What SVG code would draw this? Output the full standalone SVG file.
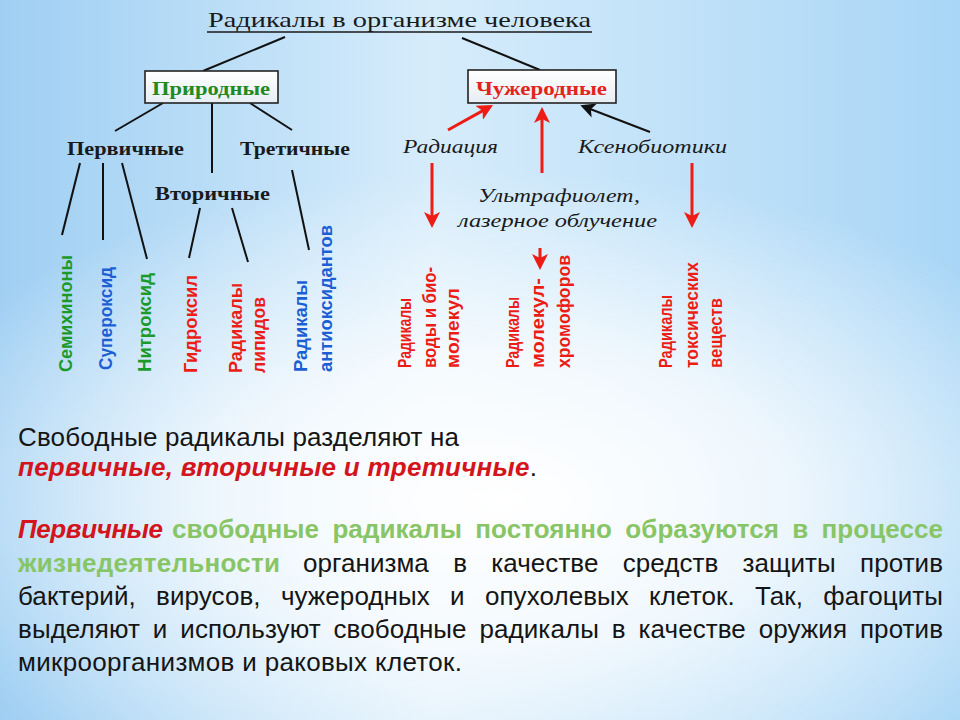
<svg xmlns="http://www.w3.org/2000/svg" width="960" height="720" viewBox="0 0 960 720">
<defs>
  <linearGradient id="bgLin" x1="0" y1="0" x2="1" y2="0">
    <stop offset="0" stop-color="#9fcff3"/>
    <stop offset="0.45" stop-color="#d6ecfb"/>
    <stop offset="1" stop-color="#a9d6f6"/>
  </linearGradient>
  <radialGradient id="glow" cx="0.5" cy="0.5" r="0.5">
    <stop offset="0" stop-color="#ffffff" stop-opacity="1"/>
    <stop offset="0.45" stop-color="#ffffff" stop-opacity="0.75"/>
    <stop offset="1" stop-color="#ffffff" stop-opacity="0"/>
  </radialGradient>
  <linearGradient id="boxFill" x1="0" y1="0" x2="0" y2="1">
    <stop offset="0" stop-color="#ffffff"/>
    <stop offset="1" stop-color="#e6eef4"/>
  </linearGradient>
  <marker id="ahRed" viewBox="0 0 16 16" refX="10" refY="8" markerWidth="16" markerHeight="16" markerUnits="userSpaceOnUse" orient="auto">
    <path d="M0,0 L16,8 L0,16 L4,8 Z" fill="#ee1c14"/>
  </marker>
  <marker id="ahBlack" viewBox="0 0 16 16" refX="10" refY="8" markerWidth="15" markerHeight="15" markerUnits="userSpaceOnUse" orient="auto">
    <path d="M0,0 L16,8 L0,16 L4,8 Z" fill="#111"/>
  </marker>
  <style>
    .ser { font-family: "Liberation Serif", "DejaVu Serif", serif; }
    .title { font-size: 21px; fill: #1a1a1a; }
    .lvl { font-size: 18px; font-weight: bold; fill: #1a1a1a; }
    .ital { font-size: 18px; font-style: italic; fill: #1a1a1a; }
    .boxlbl { font-size: 18px; font-weight: bold; }
    .box { fill: url(#boxFill); stroke: #222; stroke-width: 1.6; }
    .vl { font-family: "Liberation Sans", Arial, sans-serif; font-weight: bold; }
    .vL { font-size: 19px; }
    .vR { font-size: 19px; }
    .g { fill: #1b9a2a; }
    .b { fill: #1c5fd4; }
    .r { fill: #ec1c16; }
    .ln { stroke: #111; stroke-width: 2; fill: none; }
    .ar { stroke: #ee1c14; stroke-width: 3; fill: none; marker-end: url(#ahRed); }
    .ak { stroke: #111; stroke-width: 2; fill: none; marker-end: url(#ahBlack); }
    .p { font-family: "Liberation Sans", Arial, sans-serif; font-size: 26px; fill: #151515; }
    .pr { fill: #d4141c; font-weight: bold; font-style: italic; }
    .pg { fill: #88c566; font-weight: bold; }
  </style>
</defs>

<!-- background -->
<rect width="960" height="720" fill="url(#bgLin)"/>
<ellipse cx="500" cy="500" rx="640" ry="330" fill="url(#glow)"/>

<!-- connectors -->
<g id="connectors">
  <line class="ln" x1="285" y1="37" x2="203" y2="71"/>
  <line class="ln" x1="462" y1="38" x2="540" y2="70"/>
  <line class="ln" x1="163" y1="103" x2="115" y2="131"/>
  <line class="ln" x1="212" y1="103" x2="212" y2="173"/>
  <line class="ln" x1="250" y1="103" x2="292" y2="130"/>
  <line class="ln" x1="80" y1="163" x2="62" y2="235"/>
  <line class="ln" x1="103" y1="163" x2="103" y2="240"/>
  <line class="ln" x1="122" y1="163" x2="147" y2="259"/>
  <line class="ln" x1="200" y1="208" x2="189" y2="258"/>
  <line class="ln" x1="232" y1="208" x2="248" y2="262"/>
  <line class="ln" x1="292" y1="170" x2="309" y2="250"/>
  <line class="ar" x1="448" y1="130" x2="487.8" y2="107.9"/>
  <line class="ar" x1="542" y1="173" x2="542" y2="113"/>
  <line class="ak" x1="650" y1="132" x2="585.6" y2="107.2"/>
  <line class="ar" x1="432" y1="163" x2="432" y2="222"/>
  <line class="ar" x1="692" y1="163" x2="692" y2="222"/>
  <line class="ar" x1="540" y1="248" x2="540" y2="264"/>
</g>

<!-- title -->
<g id="title">
  <text class="ser title" x="208" y="27" textLength="383" lengthAdjust="spacingAndGlyphs">Радикалы в организме человека</text>
  <line x1="207" y1="32" x2="592" y2="32" stroke="#1a1a1a" stroke-width="1.5"/>
</g>

<!-- boxes -->
<g id="node-prirodnye">
  <rect class="box" x="145" y="71" width="133" height="32"/>
  <text class="ser boxlbl" x="152" y="95" fill="#1f8a1f" textLength="118" lengthAdjust="spacingAndGlyphs">Природные</text>
</g>
<g id="node-chuzherodnye">
  <rect class="box" x="468" y="70" width="148" height="33"/>
  <text class="ser boxlbl" x="476" y="95" fill="#e3241c" textLength="131" lengthAdjust="spacingAndGlyphs">Чужеродные</text>
</g>

<!-- level labels -->
<g id="node-pervichnye"><text class="ser lvl" x="67" y="155" textLength="117" lengthAdjust="spacingAndGlyphs">Первичные</text></g>
<g id="node-tretichnye"><text class="ser lvl" x="240" y="155" textLength="110" lengthAdjust="spacingAndGlyphs">Третичные</text></g>
<g id="node-vtorichnye"><text class="ser lvl" x="155" y="200" textLength="115" lengthAdjust="spacingAndGlyphs">Вторичные</text></g>

<g id="node-radiaciya"><text class="ser ital" x="403" y="153" textLength="95" lengthAdjust="spacingAndGlyphs">Радиация</text></g>
<g id="node-ksenobiotiki"><text class="ser ital" x="578" y="153" textLength="149" lengthAdjust="spacingAndGlyphs">Ксенобиотики</text></g>
<g id="node-uf">
  <text class="ser ital" x="478" y="202" textLength="162" lengthAdjust="spacingAndGlyphs">Ультрафиолет,</text>
  <text class="ser ital" x="458" y="227" textLength="199" lengthAdjust="spacingAndGlyphs">лазерное облучение</text>
</g>

<!-- vertical leaf labels -->
<g id="leaf-semihinony"><text class="vl vL g" transform="translate(72,372) rotate(-90)" textLength="117" lengthAdjust="spacingAndGlyphs">Семихиноны</text></g>
<g id="leaf-superoksid"><text class="vl vL b" transform="translate(112,370) rotate(-90)" textLength="103" lengthAdjust="spacingAndGlyphs">Супероксид</text></g>
<g id="leaf-nitroksid"><text class="vl vL g" transform="translate(151,372) rotate(-90)" textLength="99" lengthAdjust="spacingAndGlyphs">Нитроксид</text></g>
<g id="leaf-gidroksil"><text class="vl vL r" transform="translate(197,373) rotate(-90)" textLength="98" lengthAdjust="spacingAndGlyphs">Гидроксил</text></g>
<g id="leaf-lipidy">
  <text class="vl vL r" transform="translate(242,373) rotate(-90)" textLength="90" lengthAdjust="spacingAndGlyphs">Радикалы</text>
  <text class="vl vL r" transform="translate(265,373) rotate(-90)" textLength="76" lengthAdjust="spacingAndGlyphs">липидов</text>
</g>
<g id="leaf-antioksidanty">
  <text class="vl vL b" transform="translate(307,372) rotate(-90)" textLength="92" lengthAdjust="spacingAndGlyphs">Радикалы</text>
  <text class="vl vL b" transform="translate(332,372) rotate(-90)" textLength="147" lengthAdjust="spacingAndGlyphs">антиоксидантов</text>
</g>
<g id="leaf-voda">
  <text class="vl vR r" transform="translate(411,368) rotate(-90)" textLength="70" lengthAdjust="spacingAndGlyphs">Радикалы</text>
  <text class="vl vR r" transform="translate(436,368) rotate(-90)" textLength="101" lengthAdjust="spacingAndGlyphs">воды и био-</text>
  <text class="vl vR r" transform="translate(459,368) rotate(-90)" textLength="80" lengthAdjust="spacingAndGlyphs">молекул</text>
</g>
<g id="leaf-hromofory">
  <text class="vl vR r" transform="translate(519,368) rotate(-90)" textLength="71" lengthAdjust="spacingAndGlyphs">Радикалы</text>
  <text class="vl vR r" transform="translate(544,368) rotate(-90)" textLength="90" lengthAdjust="spacingAndGlyphs">молекул-</text>
  <text class="vl vR r" transform="translate(570,368) rotate(-90)" textLength="113" lengthAdjust="spacingAndGlyphs">хромофоров</text>
</g>
<g id="leaf-toksicheskie">
  <text class="vl vR r" transform="translate(672,368) rotate(-90)" textLength="73" lengthAdjust="spacingAndGlyphs">Радикалы</text>
  <text class="vl vR r" transform="translate(698,368) rotate(-90)" textLength="106" lengthAdjust="spacingAndGlyphs">токсических</text>
  <text class="vl vR r" transform="translate(722,368) rotate(-90)" textLength="70" lengthAdjust="spacingAndGlyphs">веществ</text>
</g>

<!-- paragraph -->
<g id="paragraph" class="p">
  <text x="18" y="446" textLength="441" lengthAdjust="spacing">Свободные радикалы разделяют на</text>
  <text x="18" y="476" textLength="519" lengthAdjust="spacing"><tspan class="pr">первичные, вторичные и третичные</tspan>.</text>
  <text class="pr" x="18" y="538" textLength="145" lengthAdjust="spacing">Первичные</text>
  <text class="pg" x="172" y="538" textLength="771" lengthAdjust="spacing" word-spacing="6">свободные радикалы постоянно образуются в процессе</text>
  <text class="pg" x="18" y="572" textLength="262" lengthAdjust="spacing">жизнедеятельности</text>
  <text x="303" y="572" textLength="640" lengthAdjust="spacing" word-spacing="17">организма в качестве средств защиты против</text>
  <text x="18" y="605" textLength="925" lengthAdjust="spacing" word-spacing="13">бактерий, вирусов, чужеродных и опухолевых клеток. Так, фагоциты</text>
  <text x="18" y="638" textLength="925" lengthAdjust="spacing" word-spacing="5.6">выделяют и используют свободные радикалы в качестве оружия против</text>
  <text x="18" y="671" textLength="444" lengthAdjust="spacing">микроорганизмов и раковых клеток.</text>
</g>
</svg>
